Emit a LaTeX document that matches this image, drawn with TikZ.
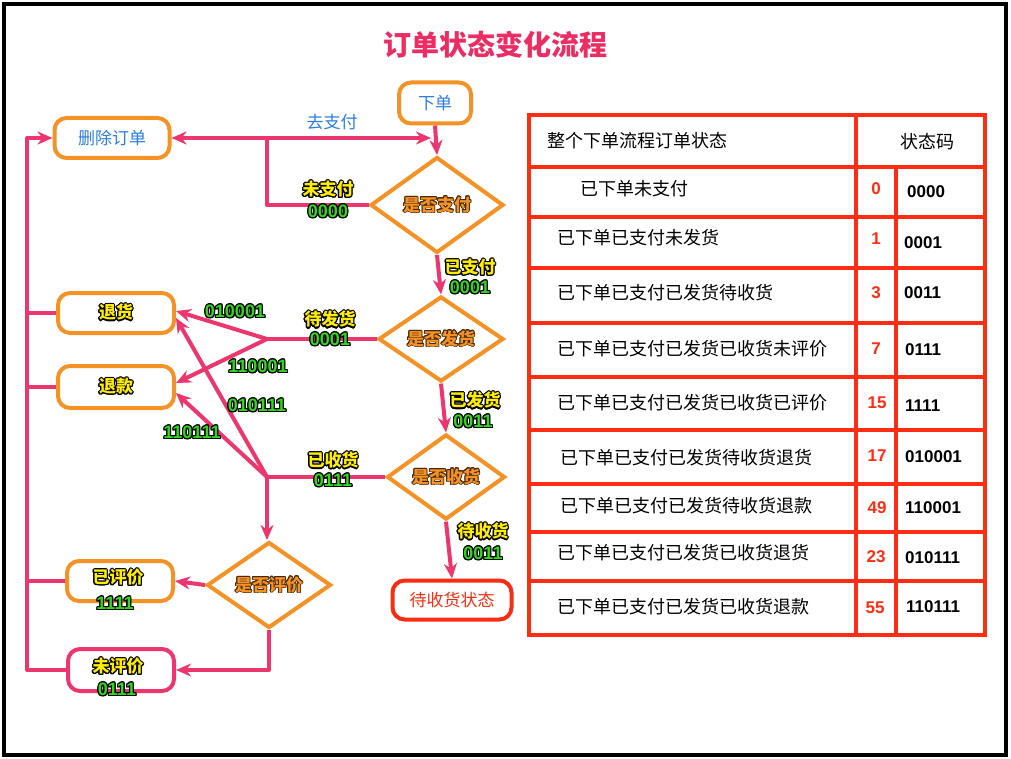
\documentclass[tikz,border=0pt]{standalone}
\usepackage{fontspec}
\setmainfont{Liberation Sans}
\newfontfamily\cjk{Noto Sans CJK SC}
\usepackage{contour}
\contourlength{1.1pt}
\usetikzlibrary{shapes.geometric,arrows.meta,calc}
\definecolor{pinkC}{RGB}{236,54,110}
\definecolor{orangeC}{RGB}{245,146,38}
\definecolor{blueC}{RGB}{45,125,225}
\definecolor{redC}{RGB}{250,45,20}
\definecolor{yelC}{RGB}{255,238,0}
\definecolor{grnC}{RGB}{50,215,30}
\definecolor{tabred}{RGB}{255,45,20}
\definecolor{titleC}{RGB}{236,45,100}
\definecolor{dkC}{RGB}{70,40,10}
\newcommand\yl[1]{\contour{black}{\textcolor{yelC}{\cjk\bfseries #1}}}
\newcommand\gl[1]{\contour{black}{\textcolor{grnC}{\bfseries #1}}}
\newcommand\ol[1]{{\contourlength{0.8pt}\contour{dkC}{\textcolor{orangeC}{\cjk\bfseries #1}}}}
\tikzset{
  rbox/.style={rectangle, rounded corners=12pt, draw=orangeC, line width=4pt, fill=white, inner sep=0pt},
  dia/.style={diamond, draw=orangeC, line width=4pt, fill=white, inner sep=0pt},
  conn/.style={draw=pinkC, line width=4pt, line join=round},
  arr/.style={conn, -{Stealth[length=15pt,width=13pt]}},
  lab/.style={inner sep=0pt},
  dig/.style={inner sep=0pt, font=\fontsize{18}{21}\selectfont},
  tline/.style={draw=tabred, line width=4.5pt},
  ttxt/.style={inner sep=0pt, anchor=west, font=\fontsize{18}{21}\selectfont\cjk},
  tdec/.style={inner sep=0pt, text=tabred, font=\fontsize{17}{20}\selectfont\bfseries},
  tbin/.style={inner sep=0pt, anchor=west, font=\fontsize{17}{20}\selectfont\bfseries},
}
\begin{document}
\begin{tikzpicture}[x=1pt,y=-1pt,font=\fontsize{17}{20}\selectfont]
\useasboundingbox (0,0) rectangle (1011,759);
\fill[white] (0,0) rectangle (1011,759);
\draw[line width=4.5pt] (4,4) rectangle (1006,755);

\node[lab, text=titleC, font=\fontsize{28}{32}\selectfont\cjk\bfseries] (title) at (495,45) {订单状态变化流程};

% nodes
\node[rbox, minimum width=72pt, minimum height=41pt, text=blueC] (xiadan) at (435,103) {\cjk 下单};
\node[rbox, minimum width=115pt, minimum height=40pt, text=blueC] (shanchu) at (112,138) {\cjk 删除订单};
\node[dia, minimum width=133pt, minimum height=96pt] (zhifu) at (437,205) {\ol{是否支付}};
\node[dia, minimum width=125pt, minimum height=85pt] (fahuo) at (441,339) {\ol{是否发货}};
\node[dia, minimum width=118pt, minimum height=85pt] (shouhuo) at (446,477) {\ol{是否收货}};
\node[rbox, draw=redC, minimum width=119pt, minimum height=39pt, text=redC] (daishou) at (452,600) {\cjk 待收货状态};
\node[dia, minimum width=124pt, minimum height=86pt] (pingjia) at (269,585) {\ol{是否评价}};
\node[rbox, minimum width=116pt, minimum height=40pt] (tuihuo) at (116,313) {\yl{退货}};
\node[rbox, minimum width=116pt, minimum height=42pt] (tuikuan) at (116,387) {\yl{退款}};
\node[rbox, minimum width=106pt, minimum height=40pt] (yipj) at (120,581) {};
\node[rbox, draw=pinkC, minimum width=106pt, minimum height=42pt] (weipj) at (121,670) {};
\node[lab] (yipjt) at (118,578) {\yl{已评价}};
\node[dig] (yipjc) at (115,604) {\gl{1111}};
\node[lab] (weipjt) at (118,667) {\yl{未评价}};
\node[dig] (weipjc) at (117,690) {\gl{0111}};

% connectors
\coordinate (bx) at (27,0);
\coordinate (jx) at (267,0);
\draw[arr] (weipj.west) -- (weipj.west -| bx) -- (bx |- shanchu.west) -- (shanchu.west);
\draw[conn] (tuihuo.west) -- (tuihuo.west -| bx);
\draw[conn] (tuikuan.west) -- (tuikuan.west -| bx);
\draw[conn] (yipj.west) -- (yipj.west -| bx);

\coordinate (topR) at ($(xiadan.south |- shanchu.east)+(-4,0)$);
\draw[conn, {Stealth[length=15pt,width=13pt]}-{Stealth[length=15pt,width=13pt]}] (shanchu.east) -- (topR);
\draw[conn] (zhifu.west) -- (zhifu.west -| jx) -- (jx |- shanchu.east);
\draw[arr] (xiadan.south) -- (zhifu.north);
\draw[arr] (zhifu.south) -- (fahuo.north);
\draw[arr] (fahuo.south) -- (shouhuo.north);
\draw[arr] (shouhuo.south) -- (daishou.north);

\draw[conn] (fahuo.west) -- (fahuo.west -| jx) coordinate (j2);
\draw[arr] (j2) -- ([yshift=2pt]tuihuo.east);
\draw[arr] (j2) -- ([yshift=4pt]tuikuan.east);
\draw[conn] (shouhuo.west) -- (shouhuo.west -| jx) coordinate (j3);
\draw[arr] (j3) -- ([yshift=-5pt]tuihuo.east);
\draw[arr] (j3) -- ([yshift=-6pt]tuikuan.east);
\draw[arr] (j3) -- (j3 |- pingjia.north);
\draw[arr] (pingjia.west) -- (yipj.east);
\draw[arr] (pingjia.south) |- (weipj.east);

% labels
\node[lab, text=blueC] (lq) at (332,122) {\cjk 去支付};
\node[lab] (l1a) at (328,190) {\yl{未支付}};
\node[dig] (l1b) at (328,212) {\gl{0000}};
\node[lab] (l2a) at (470,268) {\yl{已支付}};
\node[dig] (l2b) at (470,288) {\gl{0001}};
\node[lab] (l3a) at (330,320) {\yl{待发货}};
\node[dig] (l3b) at (330,340) {\gl{0001}};
\node[dig] (l4) at (235,312) {\gl{010001}};
\node[dig] (l5) at (258,367) {\gl{110001}};
\node[dig] (l6) at (257,406) {\gl{010111}};
\node[dig] (l7) at (192,433) {\gl{110111}};
\node[lab] (l8a) at (475,401) {\yl{已发货}};
\node[dig] (l8b) at (473,422) {\gl{0011}};
\node[lab] (l9a) at (333,461) {\yl{已收货}};
\node[dig] (l9b) at (333,481) {\gl{0111}};
\node[lab] (l10a) at (483,532) {\yl{待收货}};
\node[dig] (l10b) at (483,554) {\gl{0011}};

% table
\draw[tline] (529,115) rectangle (985,635);
\foreach \yy in {167,217,268,323,377,430,484,532,581} \draw[tline] (529,\yy) -- (985,\yy);
\draw[tline] (856,115) -- (856,635);
\draw[tline] (896,167) -- (896,635);

\node[ttxt] (th1) at (547,141) {整个下单流程订单状态};
\node[lab, font=\fontsize{18}{21}\selectfont\cjk] (th2) at (927,142) {状态码};

\node[ttxt] (r1) at (580,189) {已下单未支付};
\node[ttxt] (r2) at (557,238) {已下单已支付未发货};
\node[ttxt] (r3) at (557,293) {已下单已支付已发货待收货};
\node[ttxt] (r4) at (557,349) {已下单已支付已发货已收货未评价};
\node[ttxt] (r5) at (557,403) {已下单已支付已发货已收货已评价};
\node[ttxt] (r6) at (560,458) {已下单已支付已发货待收货退货};
\node[ttxt] (r7) at (560,506) {已下单已支付已发货待收货退款};
\node[ttxt] (r8) at (557,553) {已下单已支付已发货已收货退货};
\node[ttxt] (r9) at (557,607) {已下单已支付已发货已收货退款};

\node[tdec] (d1) at (876,189) {0};
\node[tdec] (d2) at (876,239) {1};
\node[tdec] (d3) at (876,293) {3};
\node[tdec] (d4) at (876,349) {7};
\node[tdec] (d5) at (877,403) {15};
\node[tdec] (d6) at (877,456) {17};
\node[tdec] (d7) at (877,508) {49};
\node[tdec] (d8) at (876,557) {23};
\node[tdec] (d9) at (875,608) {55};

\node[tbin] (b1) at (907,192) {0000};
\node[tbin] (b2) at (904,243) {0001};
\node[tbin] (b3) at (904,293) {0011};
\node[tbin] (b4) at (905,350) {0111};
\node[tbin] (b5) at (905,406) {1111};
\node[tbin] (b6) at (905,457) {010001};
\node[tbin] (b7) at (905,508) {110001};
\node[tbin] (b8) at (905,558) {010111};
\node[tbin] (b9) at (906,607) {110111};
\end{tikzpicture}
\end{document}
